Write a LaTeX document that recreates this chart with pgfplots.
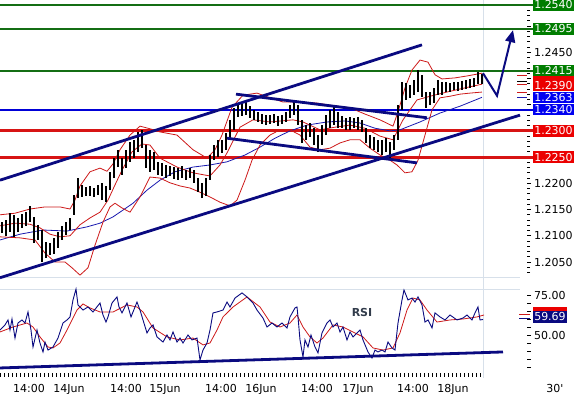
\documentclass[border=0pt]{standalone}
\usepackage{pgfplots}
\pgfplotsset{compat=1.18}
\usepackage{pgfplotstable}
\usepackage{fontspec}
\setmainfont{DejaVu Sans}
\usetikzlibrary{arrows.meta}
\definecolor{navy}{RGB}{10,10,128}
\definecolor{bbred}{RGB}{205,25,25}
\definecolor{mablue}{RGB}{25,25,175}
\definecolor{lgreen}{RGB}{20,110,20}
\definecolor{bgreen}{RGB}{0,125,0}
\definecolor{lred}{RGB}{215,20,20}
\definecolor{bred}{RGB}{235,0,0}
\definecolor{lblue}{RGB}{0,0,215}
\definecolor{bblue}{RGB}{0,0,240}
\definecolor{gridgray}{RGB}{215,224,234}
\definecolor{rsitext}{RGB}{50,60,75}

\pgfplotstableread{
x lo hi
2 1.2105 1.2126
6 1.2100 1.2130
10 1.2107 1.2143
14 1.2098 1.2140
18 1.2107 1.2134
22 1.2115 1.2142
26 1.2119 1.2145
30 1.2126 1.2157
34 1.2086 1.2136
38 1.2092 1.2121
42 1.2050 1.2111
46 1.2058 1.2088
50 1.2063 1.2086
54 1.2065 1.2096
58 1.2077 1.2107
62 1.2092 1.2119
66 1.2102 1.2126
70 1.2111 1.2134
74 1.2140 1.2178
78 1.2172 1.2210
82 1.2174 1.2197
86 1.2176 1.2193
90 1.2176 1.2195
94 1.2174 1.2191
98 1.2178 1.2197
102 1.2168 1.2201
106 1.2164 1.2195
110 1.2187 1.2222
114 1.2210 1.2248
118 1.2231 1.2264
122 1.2216 1.2248
126 1.2229 1.2264
130 1.2241 1.2279
134 1.2248 1.2283
138 1.2260 1.2298
142 1.2267 1.2302
146 1.2229 1.2273
150 1.2222 1.2264
154 1.2225 1.2260
158 1.2216 1.2241
162 1.2214 1.2239
166 1.2211 1.2235
170 1.2214 1.2233
174 1.2209 1.2231
178 1.2207 1.2229
182 1.2211 1.2233
186 1.2207 1.2226
190 1.2211 1.2229
194 1.2201 1.2226
198 1.2184 1.2211
202 1.2172 1.2201
206 1.2176 1.2211
210 1.2207 1.2254
214 1.2245 1.2273
218 1.2250 1.2283
222 1.2258 1.2283
226 1.2264 1.2296
230 1.2283 1.2321
234 1.2302 1.2344
238 1.2327 1.2354
242 1.2329 1.2352
246 1.2331 1.2355
250 1.2325 1.2348
254 1.2321 1.2340
258 1.2317 1.2336
262 1.2314 1.2333
266 1.2312 1.2331
270 1.2314 1.2331
274 1.2315 1.2333
278 1.2310 1.2329
282 1.2314 1.2331
286 1.2317 1.2336
290 1.2325 1.2350
294 1.2331 1.2355
298 1.2312 1.2350
302 1.2277 1.2321
306 1.2283 1.2312
310 1.2289 1.2315
314 1.2273 1.2306
318 1.2260 1.2293
322 1.2273 1.2312
326 1.2293 1.2331
330 1.2306 1.2340
334 1.2312 1.2346
338 1.2306 1.2336
342 1.2306 1.2329
346 1.2302 1.2325
350 1.2302 1.2327
354 1.2306 1.2325
358 1.2302 1.2327
362 1.2298 1.2321
366 1.2277 1.2306
370 1.2268 1.2293
374 1.2264 1.2289
378 1.2260 1.2283
382 1.2254 1.2283
386 1.2260 1.2287
390 1.2248 1.2279
394 1.2264 1.2293
398 1.2283 1.2350
402 1.2340 1.2394
406 1.2359 1.2392
410 1.2363 1.2388
414 1.2369 1.2397
418 1.2375 1.2417
422 1.2365 1.2407
426 1.2344 1.2375
430 1.2350 1.2375
434 1.2354 1.2382
438 1.2369 1.2397
442 1.2369 1.2394
446 1.2375 1.2394
450 1.2375 1.2392
454 1.2378 1.2394
458 1.2376 1.2394
462 1.2378 1.2396
466 1.2380 1.2397
470 1.2382 1.2399
474 1.2384 1.2401
478 1.2390 1.2413
482 1.2390 1.2409
}\bars

\pgfplotstableread{
x y
0 1.2140
15 1.2143
30 1.2151
45 1.2155
60 1.2155
70 1.2151
75 1.2168
80 1.2195
90 1.2222
100 1.2229
107 1.2223
113 1.2237
120 1.2264
130 1.2292
140 1.2309
150 1.2304
160 1.2298
177 1.2292
193 1.2264
207 1.2248
215 1.2264
222 1.2292
232 1.2345
243 1.2368
257 1.2372
270 1.2363
283 1.2355
300 1.2355
317 1.2353
330 1.2349
350 1.2344
365 1.2332
380 1.2321
393 1.2309
398 1.2336
405 1.2382
412 1.2416
420 1.2435
428 1.2431
435 1.2407
442 1.2399
455 1.2401
468 1.2405
482 1.2410
}\bbupper

\pgfplotstableread{
x y
0 1.2119
15 1.2124
30 1.2122
40 1.2115
50 1.2103
60 1.2098
70 1.2100
80 1.2121
90 1.2134
100 1.2145
108 1.2168
115 1.2197
122 1.2225
132 1.2260
142 1.2275
150 1.2273
160 1.2248
177 1.2231
193 1.2220
210 1.2214
220 1.2235
227 1.2258
240 1.2307
253 1.2321
270 1.2317
293 1.2321
303 1.2317
320 1.2302
335 1.2307
350 1.2311
365 1.2305
380 1.2290
393 1.2283
403 1.2321
417 1.2359
430 1.2366
447 1.2374
465 1.2382
482 1.2389
}\bbmid

\pgfplotstableread{
x y
0 1.2098
20 1.2096
35 1.2092
45 1.2067
55 1.2050
65 1.2050
72 1.2039
80 1.2025
88 1.2039
95 1.2082
103 1.2126
110 1.2155
115 1.2162
122 1.2153
130 1.2145
140 1.2174
150 1.2212
160 1.2210
170 1.2201
180 1.2195
190 1.2191
200 1.2183
210 1.2174
220 1.2164
230 1.2157
237 1.2168
245 1.2206
252 1.2244
260 1.2273
270 1.2292
280 1.2302
290 1.2302
300 1.2292
310 1.2269
320 1.2264
330 1.2267
340 1.2277
350 1.2283
360 1.2283
370 1.2267
380 1.2254
390 1.2244
397 1.2235
405 1.2220
412 1.2222
418 1.2244
425 1.2292
432 1.2340
440 1.2363
450 1.2366
460 1.2370
470 1.2372
482 1.2374
}\bblower

\pgfplotstableread{
x y
0 1.2092
20 1.2103
43 1.2111
67 1.2109
87 1.2117
100 1.2124
113 1.2136
133 1.2162
147 1.2187
160 1.2206
175 1.2222
193 1.2231
210 1.2235
227 1.2241
245 1.2254
260 1.2269
275 1.2286
290 1.2300
307 1.2311
327 1.2317
345 1.2319
360 1.2315
375 1.2305
390 1.2300
400 1.2302
420 1.2317
440 1.2334
460 1.2347
482 1.2364
}\maline

\pgfplotstableread{
x r
0 53.1
5 56.3
8 59.4
10 53.1
12 60.0
15 48.1
18 57.5
22 59.4
25 57.5
28 64.4
31 53.1
33 42.5
37 53.1
40 45.0
43 39.4
45 45.6
48 40.6
53 42.5
58 48.1
63 57.5
67 59.4
70 61.3
73 71.9
76 78.7
78 68.8
83 65.6
88 67.5
93 64.4
100 70.0
103 62.5
106 58.1
108 61.3
112 70.0
117 73.8
119 67.5
122 63.8
127 70.0
131 61.3
137 70.6
140 65.6
143 59.4
147 51.3
150 54.4
153 56.3
157 48.8
163 45.6
167 50.0
170 46.9
173 51.9
177 45.6
180 48.1
183 45.0
188 50.0
192 46.9
197 48.1
200 34.4
203 40.6
207 45.0
210 53.1
213 63.8
217 64.4
223 65.6
227 70.6
230 67.5
235 73.1
242 76.3
247 73.8
253 70.0
257 65.6
263 60.6
267 55.0
272 57.5
277 55.0
282 57.5
287 54.4
290 61.3
295 66.9
297 67.5
298 61.3
300 46.9
303 36.3
305 46.9
308 42.5
311 50.0
315 42.5
318 38.8
322 51.3
327 57.5
330 59.4
333 55.0
337 57.5
340 51.9
343 55.0
347 46.9
350 51.9
353 48.8
357 51.3
360 53.1
363 46.9
368 39.4
372 35.6
375 40.6
378 39.4
382 40.6
385 39.4
388 45.6
392 41.9
395 40.6
398 57.5
402 71.9
404 78.1
408 71.9
412 73.1
415 70.6
418 73.8
422 68.8
425 58.1
428 59.4
432 54.4
435 63.8
440 61.3
445 59.4
450 62.5
457 59.4
463 60.6
467 62.5
472 59.4
475 63.8
478 67.5
480 59.4
483 59.7
}\rsi

\pgfplotstableread{
x r
0 51.9
13 55.0
27 57.5
33 55.0
40 48.8
48 42.5
53 41.9
60 45.0
67 53.1
77 65.6
83 69.4
90 66.9
100 64.4
113 64.4
127 68.8
137 67.5
143 64.4
153 54.4
167 48.8
180 46.9
193 48.1
203 43.8
210 45.0
217 53.1
223 61.3
233 67.5
247 73.8
260 67.5
270 58.1
280 55.0
290 57.5
297 62.5
303 55.0
310 48.8
317 45.0
323 48.1
333 56.3
343 55.0
353 51.9
363 48.8
373 41.9
383 40.6
393 41.9
400 51.3
407 65.6
413 73.1
420 71.9
427 65.6
437 58.1
450 59.4
463 60.0
477 61.3
484 62.5
}\rsisig

\tikzset{lbl/.style={fill=#1, text=white, minimum width=41pt, minimum height=12pt, inner sep=0pt, font=\fontsize{11}{12}\selectfont}}

\begin{document}
\begin{tikzpicture}
\useasboundingbox (0pt,0pt) rectangle (574pt,394pt);
\draw[gridgray, line width=1pt] (0pt,116pt) -- (520pt,116pt);
\draw[gridgray, line width=1pt] (0pt,104pt) -- (520pt,104pt);
\draw[gridgray, line width=1pt] (483pt,16pt) -- (483pt,394pt);

% ---------------- main price panel ----------------
\begin{axis}[
  at={(0pt,116pt)}, anchor=south west,
  scale only axis, width=527pt, height=278pt,
  xmin=0, xmax=527, ymin=1.20195, ymax=1.25495,
  axis x line=none, axis y line*=right,
  axis line style={draw=none},
  clip=false,
  ytick={1.2050,1.2100,1.2150,1.2200,1.2250,1.2300,1.2350,1.2400,1.2450,1.2500},
  yticklabels={1.2050,1.2100,1.2150,1.2200,{},{},{},{},1.2450,{}},
  minor ytick={1.203,1.204,...,1.254},
  tick align=outside, major tick length=4pt, minor tick length=3pt,
  tick style={black, line width=0.8pt},
  yticklabel style={font=\fontsize{11}{12}\selectfont, inner sep=0pt, anchor=west, xshift=3pt},
]
% horizontal levels
\addplot[lgreen, line width=2pt] coordinates {(0,1.2540)(533,1.2540)};
\addplot[lgreen, line width=2pt] coordinates {(0,1.2495)(533,1.2495)};
\addplot[lgreen, line width=2pt] coordinates {(0,1.2415)(533,1.2415)};
\addplot[lblue, line width=2pt] coordinates {(0,1.2340)(533,1.2340)};
\addplot[lred, line width=3pt] coordinates {(0,1.2300)(533,1.2300)};
\addplot[lred, line width=3pt] coordinates {(0,1.2250)(533,1.2250)};
% indicators
\addplot[mablue, line width=0.8pt] table[x=x,y=y] {\maline};
\addplot[bbred, line width=0.8pt] table[x=x,y=y] {\bbupper};
\addplot[bbred, line width=0.8pt] table[x=x,y=y] {\bbmid};
\addplot[bbred, line width=0.8pt] table[x=x,y=y] {\bblower};
% price bars
\addplot[draw=none, mark=none,
  error bars/.cd, y dir=plus, y explicit, error mark=none,
  error bar style={draw=black, line width=1.1pt}]
  table[x=x, y=lo, y error expr=\thisrow{hi}-\thisrow{lo}] {\bars};
% trend lines
\addplot[navy, line width=2.8pt] coordinates {(0,1.2206)(422,1.2464)};
\addplot[navy, line width=2.8pt] coordinates {(0,1.2020)(520,1.2330)};
\addplot[navy, line width=2.8pt] coordinates {(236,1.2370)(427,1.2325)};
\addplot[navy, line width=2.8pt] coordinates {(227,1.2286)(417,1.2239)};
\addplot[navy, line width=2pt, -{Triangle[length=12pt,width=10pt]}] coordinates {(483,1.2410)(497,1.2367)(513,1.2492)};
% last value markers
\addplot[bbred, line width=1pt] coordinates {(517,1.2405)(527,1.2405)};
\addplot[black, line width=1pt] coordinates {(517,1.2395)(527,1.2395)};
\addplot[bbred, line width=1pt] coordinates {(517,1.2389)(527,1.2389)};
\addplot[bbred, line width=1pt] coordinates {(517,1.2374)(527,1.2374)};
\addplot[mablue, line width=1pt] coordinates {(517,1.2364)(527,1.2364)};
% labels
\node[lbl=bgreen, xshift=26.5pt] at (axis cs:527,1.2540) {1.2540};
\node[lbl=bgreen, xshift=26.5pt] at (axis cs:527,1.2495) {1.2495};
\node[lbl=bred, xshift=26.5pt] at (axis cs:527,1.2403) {};
\node[lbl=bred, xshift=26.5pt, minimum height=10pt] at (axis cs:527,1.2386) {1.2390};
\node[lbl=bgreen, xshift=26.5pt, minimum height=11pt] at (axis cs:527,1.2415) {1.2415};
\node[lbl=bblue, xshift=26.5pt, minimum height=11pt] at (axis cs:527,1.2363) {1.2363};
\node[lbl=bblue, xshift=26.5pt, minimum height=11pt] at (axis cs:527,1.2340) {1.2340};
\node[lbl=bred, xshift=26.5pt] at (axis cs:527,1.2300) {1.2300};
\node[lbl=bred, xshift=26.5pt] at (axis cs:527,1.2250) {1.2250};
\end{axis}

% ---------------- RSI panel ----------------
\begin{axis}[
  at={(0pt,21pt)}, anchor=south west,
  scale only axis, width=527pt, height=84pt,
  xmin=0, xmax=527, ymin=26.25, ymax=78.75,
  axis x line*=bottom, axis y line*=right,
  axis line style={draw=none},
  clip=false,
  ytick={50,75}, yticklabels={50.00,75.00},
  minor ytick={30,35,40,45,55,60,65,70},
  xtick={29,69,126,165,221,261,317,358,413,453},
  xticklabels={14:00,14Jun,14:00,15Jun,14:00,16Jun,14:00,17Jun,14:00,18Jun},
  minor xtick={0,4,...,480},
  major x tick style={draw=none},
  tick align=outside, major tick length=4pt, minor tick length=4pt,
  tick style={black, line width=0.8pt},
  yticklabel style={font=\fontsize{11}{12}\selectfont, inner sep=0pt, anchor=west, xshift=3pt},
  xticklabel style={font=\fontsize{11}{12}\selectfont, inner sep=0pt, anchor=north, yshift=-7pt},
]
\addplot[bbred, line width=0.8pt] table[x=x,y=r] {\rsisig};
\addplot[navy, line width=0.9pt] table[x=x,y=r] {\rsi};
\addplot[navy, line width=2.8pt] coordinates {(0,29.4)(503,39.4)};
\addplot[bbred, line width=1pt] coordinates {(519,62.5)(530,62.5)};
\addplot[navy, line width=1pt] coordinates {(519,60.6)(530,60.6)};
\node[font=\fontsize{11}{12}\selectfont\bfseries, text=rsitext] at (axis cs:362,63.8) {RSI};
\node[fill=bred, minimum width=34pt, minimum height=12pt, inner sep=0pt, xshift=23pt] at (axis cs:527,63.6) {};
\node[fill=navy, minimum width=34pt, minimum height=12pt, inner sep=0pt, font=\fontsize{11}{12}\selectfont, text=white, xshift=23pt] at (axis cs:527,61.5) {59.69};
\node[font=\fontsize{11}{12}\selectfont] at (axis cs:555,16.5) {30\textquotesingle};
\end{axis}
\end{tikzpicture}
\end{document}
